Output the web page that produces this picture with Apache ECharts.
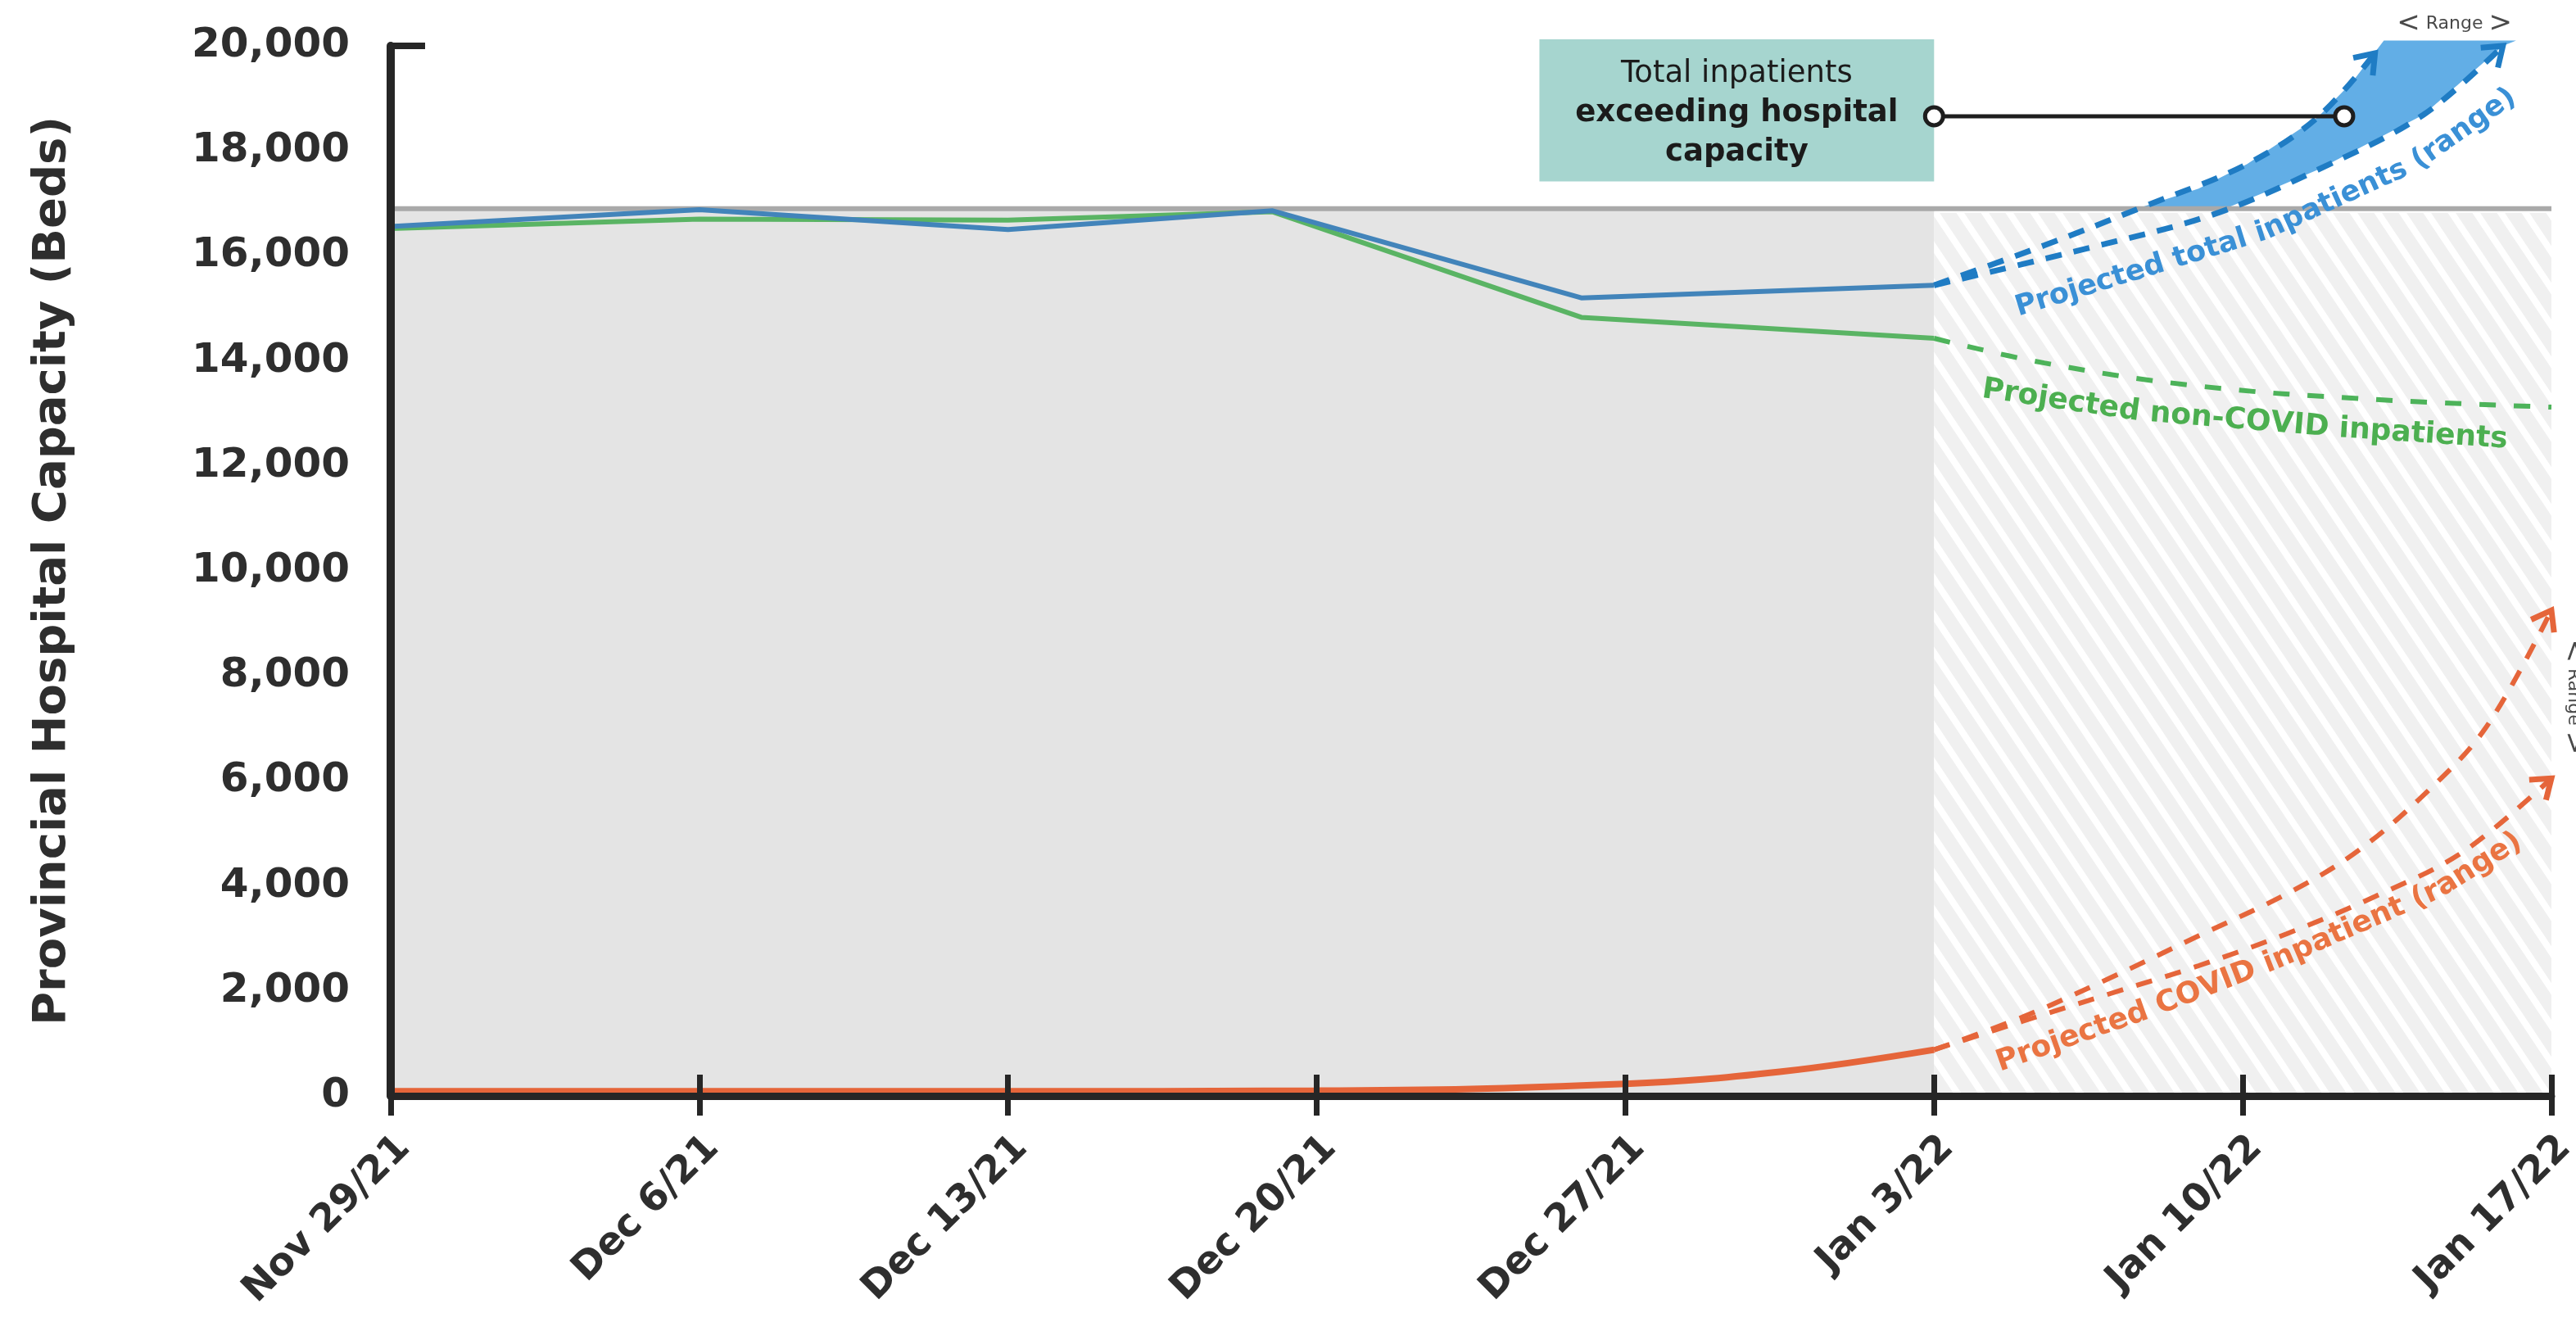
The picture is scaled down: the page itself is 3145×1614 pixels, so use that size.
<!DOCTYPE html>
<html>
<head>
<meta charset="utf-8">
<script src="https://cdn.jsdelivr.net/npm/echarts@6/dist/echarts.min.js"></script>
<style>
html,body{margin:0;padding:0;background:#ffffff;}
#chart{width:3145px;height:1614px;}
</style>
</head>
<body>
<div id="chart"></div>
<script>
// ---------- data (x = days since Nov 29/21) ----------
const xTickLabels = ['Nov 29/21','Dec 6/21','Dec 13/21','Dec 20/21','Dec 27/21','Jan 3/22','Jan 10/22','Jan 17/22'];
const dayStep = 7;
const capacityBeds = 16900;
const observedRegion = [0, 35, 0, 16900];
const projectedRegion = [35, 49, 0, 16820];

const totalActual = [[0,16560],[7,16880],[14,16500],[20,16860],[27,15200],[35,15440]];
const nonCovidActual = [[0,16520],[7,16700],[14,16680],[20,16840],[27,14830],[35,14430]];
const covidActual = [[0,90],[14,90],[21,100],[28,230],[31.5,460],[35,880]];

const nonCovidProjected = [[35,14430],[37.5,13960],[40.9,13530],[44.9,13270],[49,13120]];
const totalUpper = [[35,15440],[37.5,16200],[39.7,16920],[42.1,17750],[43.7,18640],[45,19860]];
const totalLower = [[35,15440],[38.5,16150],[41.3,16780],[43.7,17640],[46.1,18690],[47.9,20000]];
const covidUpper = [[35,880],[37,1500],[39,2250],[41,3050],[43,3850],[44.5,4600],[46,5650],[47.5,7000],[49,9250]];
const covidLower = [[35,880],[37,1420],[39,1950],[41,2480],[43,3090],[45,3800],[47,4650],[49,6050]];
const bandOverCapacity = [[39.6,16900],[41,17280],[42.1,17750],[43,18250],[43.7,18640],[44.5,19330],[45.2,20100],[48.2,20100],[47.9,20000],[47,19350],[46.1,18690],[45,18210],[43.7,17640],[42.5,17210],[41.6,16900]];

// annotation anchors (data units)
const boxCorners = [[26.05,20125],[35,17420]];
const connector = [[35,18660],[44.3,18660]];
const blueLabelPath = [[36.9,15000],[40,15800],[42.5,16450],[45.9,17750],[48.1,19050]];
const orangeLabelPath = [[36.3,570],[39.9,1640],[42.7,2550],[46.4,3900],[48.4,4950]];
const greenLabelPath = [[35.9,13480],[39.6,13020],[44.2,12700],[48.2,12480]];
const rangeTopAt = [46.8,20420];
const rangeSideAt = [49.5,7600];

// ---------- styles ----------
const C = {
  blue:'#4284ba', blueDash:'#1f7cc4', blueText:'#3a90d6', band:'#62aee6',
  green:'#5ab464', greenDash:'#4db35a', greenText:'#4caf50',
  orange:'#e5653a', orangeText:'#ea7442',
  grey:'#e4e4e4', cap:'#a9a9a9', axis:'#262626', text:'#2e2e2e', box:'#a6d5cf'
};
const FONT = '"DejaVu Sans", sans-serif';

function stripePattern(){
  const W=30,H=45;
  const c=document.createElement('canvas'); c.width=W; c.height=H;
  const g=c.getContext('2d');
  g.fillStyle='#f0f0f0'; g.fillRect(0,0,W,H);
  g.strokeStyle='#ffffff'; g.lineWidth=8;
  for(const dx of [-2*W,-W,0,W,2*W]){
    g.beginPath(); g.moveTo(dx-W,-H); g.lineTo(dx+2*W,2*H); g.stroke();
  }
  return c;
}
const hatch = {image: stripePattern(), repeat: 'repeat'};

function rectSeries(region, fill, z){
  return {
    type:'custom', z:z, silent:true, clip:false,
    data:[region],
    encode:{x:[0,1], y:[2,3]},
    renderItem:(params, api)=>{
      const p0 = api.coord([api.value(0), api.value(3)]);
      const p1 = api.coord([api.value(1), api.value(2)]);
      return {type:'rect', shape:{x:p0[0], y:p0[1], width:p1[0]-p0[0], height:p1[1]-p0[1]}, style:{fill:fill}};
    }
  };
}

function lineSeries(name, data, color, width, dashed, z, smooth){
  return {
    name, type:'line', data, z, symbol:'none', silent:true,
    smooth: smooth || false,
    lineStyle:{color, width, type: dashed ? dashed : 'solid', cap:'butt'}
  };
}

const xAxisBase = {type:'value', min:0, max:49, interval:dayStep, gridIndex:0, position:'bottom', z:6};

const option = {
  animation:false,
  backgroundColor:'#ffffff',
  grid:{left:477, right:30, top:56, bottom:276, containLabel:false, outerBoundsMode:'none'},
  xAxis:[
    Object.assign({}, xAxisBase, {
      axisLine:{show:true, lineStyle:{color:C.axis, width:9}},
      axisTick:{show:true, inside:false, length:24, lineStyle:{color:C.axis, width:7}},
      splitLine:{show:false},
      axisLabel:{show:true, rotate:45, margin:40, verticalAlign:'top', color:C.text, fontSize:47, fontWeight:'bold', fontFamily:FONT,
        formatter:(v)=>xTickLabels[Math.round(v/dayStep)] || ''}
    }),
    Object.assign({}, xAxisBase, {
      axisLine:{show:false},
      axisTick:{show:true, inside:true, length:26, lineStyle:{color:C.axis, width:7}},
      splitLine:{show:false},
      axisLabel:{show:false}
    })
  ],
  yAxis:{
    type:'value', min:0, max:20000, interval:2000, z:6,
    name:'Provincial Hospital Capacity (Beds)', nameLocation:'middle', nameGap:385,
    nameTextStyle:{fontSize:56, fontWeight:'bold', color:C.text, fontFamily:FONT},
    axisLine:{show:true, lineStyle:{color:C.axis, width:10}},
    axisTick:{show:false},
    splitLine:{show:false},
    axisLabel:{margin:50, color:C.text, fontSize:50, fontWeight:'bold', fontFamily:FONT,
      formatter:(v)=>String(v).replace(/\B(?=(\d{3})+(?!\d))/g, ',')}
  },
  series:[
    rectSeries(observedRegion, C.grey, 1),
    rectSeries(projectedRegion, hatch, 1),
    {
      type:'custom', z:2, silent:true, clip:false,
      data: bandOverCapacity,
      renderItem:(params, api)=>{
        if(params.dataIndex!==0) return null;
        return {type:'polygon', shape:{points: bandOverCapacity.map(p=>api.coord(p))}, style:{fill:C.band}};
      }
    },
    lineSeries('Capacity', [[0,capacityBeds],[49,capacityBeds]], C.cap, 6, null, 3),
    lineSeries('Projected non-COVID', nonCovidProjected, C.greenDash, 6, [20,22], 4, 0.4),
    lineSeries('Projected total (upper)', totalUpper, C.blueDash, 7, [20,15], 4, 0.35),
    lineSeries('Projected total (lower)', totalLower, C.blueDash, 7, [20,15], 4, 0.35),
    lineSeries('Projected COVID (upper)', covidUpper, C.orange, 6, [20,17], 4, 0.35),
    lineSeries('Projected COVID (lower)', covidLower, C.orange, 6, [20,17], 4, 0.35),
    lineSeries('Non-COVID inpatients', nonCovidActual, C.green, 6, null, 5),
    lineSeries('Total inpatients', totalActual, C.blue, 6, null, 5),
    lineSeries('COVID inpatients', covidActual, C.orange, 8, null, 5, 0.4)
  ]
};

const chart = echarts.init(document.getElementById('chart'), null, {renderer:'canvas'});
chart.setOption(option);

// ---------- annotations positioned through the chart's own scales ----------
const px = (p)=>chart.convertToPixel({gridIndex:0}, p);
const measure = document.createElement('canvas').getContext('2d');

function curvedText(str, pathData, fontPx, color){
  const pts = pathData.map(px);
  const cum=[0];
  for(let i=1;i<pts.length;i++) cum.push(cum[i-1]+Math.hypot(pts[i][0]-pts[i-1][0], pts[i][1]-pts[i-1][1]));
  const L = cum[cum.length-1];
  function at(s){
    let i=1;
    while(i<pts.length-1 && s>cum[i]) i++;
    const a=pts[i-1], b=pts[i];
    const t=(s-cum[i-1])/(cum[i]-cum[i-1]);
    return [a[0]+(b[0]-a[0])*t, a[1]+(b[1]-a[1])*t];
  }
  const font = 'bold '+fontPx+'px '+FONT;
  measure.font = font;
  const chars = Array.from(str);
  const widths = chars.map(ch=>measure.measureText(ch).width);
  const total = widths.reduce((a,b)=>a+b,0);
  let s = (L-total)/2;
  const out=[];
  chars.forEach((ch,k)=>{
    const w=widths[k];
    const p0=at(s), p1=at(s+w), m=at(s+w/2);
    const ang=Math.atan2(-(p1[1]-p0[1]), p1[0]-p0[0]);
    out.push({type:'text', x:m[0], y:m[1], rotation:ang, z:60, silent:true,
      style:{text:ch, font:font, fill:color, align:'center', verticalAlign:'middle'}});
    s+=w;
  });
  return out;
}

function arrowHead(pts, color){
  const a=px(pts[pts.length-1]), b=px(pts[pts.length-2]);
  let dx=a[0]-b[0], dy=a[1]-b[1];
  const L=Math.hypot(dx,dy); dx/=L; dy/=L;
  const nx=-dy, ny=dx, back=22, half=16;
  return {type:'polyline', z:55, silent:true,
    shape:{points:[[a[0]-back*dx+half*nx, a[1]-back*dy+half*ny], a, [a[0]-back*dx-half*nx, a[1]-back*dy-half*ny]]},
    style:{stroke:color, lineWidth:7, fill:null, lineJoin:'miter', lineCap:'butt'}};
}

const g=[];
// top tick of the y axis
const topTick = px([0,20000]);
g.push({type:'line', z:70, silent:true, shape:{x1:topTick[0], y1:topTick[1], x2:topTick[0]+42, y2:topTick[1]}, style:{stroke:C.axis, lineWidth:8}});

// annotation box
const b0=px(boxCorners[0]), b1=px(boxCorners[1]);
g.push({type:'rect', z:40, silent:true, shape:{x:b0[0], y:b0[1], width:b1[0]-b0[0], height:b1[1]-b0[1]}, style:{fill:C.box}});
const bcx=(b0[0]+b1[0])/2, bcy=(b0[1]+b1[1])/2+4;
[['Total inpatients','normal',-48],['exceeding hospital','bold',0],['capacity','bold',48]].forEach(([t,w,dy])=>{
  g.push({type:'text', z:45, silent:true, x:bcx, y:bcy+dy,
    style:{text:t, font:w+' 37px '+FONT, fill:'#1b1b1b', align:'center', verticalAlign:'middle'}});
});

// connector
const c0=px(connector[0]), c1=px(connector[1]);
g.push({type:'line', z:50, silent:true, shape:{x1:c0[0], y1:c0[1], x2:c1[0], y2:c1[1]}, style:{stroke:'#1e1e1e', lineWidth:5}});
[c0,c1].forEach(c=>g.push({type:'circle', z:52, silent:true, shape:{cx:c[0], cy:c[1], r:11}, style:{fill:'#ffffff', stroke:'#1e1e1e', lineWidth:5}}));

// arrow heads
g.push(arrowHead(totalUpper, C.blueDash));
g.push(arrowHead(totalLower, C.blueDash));
g.push(arrowHead(covidUpper, C.orange));
g.push(arrowHead(covidLower, C.orange));

// curved labels
g.push(...curvedText('Projected total inpatients (range)', blueLabelPath, 35, C.blueText));
g.push(...curvedText('Projected COVID inpatient (range)', orangeLabelPath, 36, C.orangeText));
g.push(...curvedText('Projected non-COVID inpatients', greenLabelPath, 36, C.greenText));

// range marks
const rt=px(rangeTopAt), rs=px(rangeSideAt);
const rangeStyle = {text:'{c|<} Range {c|>}', fontSize:22, fontFamily:FONT, fill:'#4a4a4a', align:'center', verticalAlign:'middle',
  rich:{c:{fontSize:34, fontFamily:FONT, fill:'#4a4a4a'}}};
g.push({type:'text', z:60, silent:true, x:rt[0], y:rt[1], style:Object.assign({}, rangeStyle)});
g.push({type:'text', z:60, silent:true, x:rs[0], y:rs[1], rotation:-Math.PI/2, style:Object.assign({}, rangeStyle)});

chart.setOption({graphic:{elements:g}});
</script>
</body>
</html>
